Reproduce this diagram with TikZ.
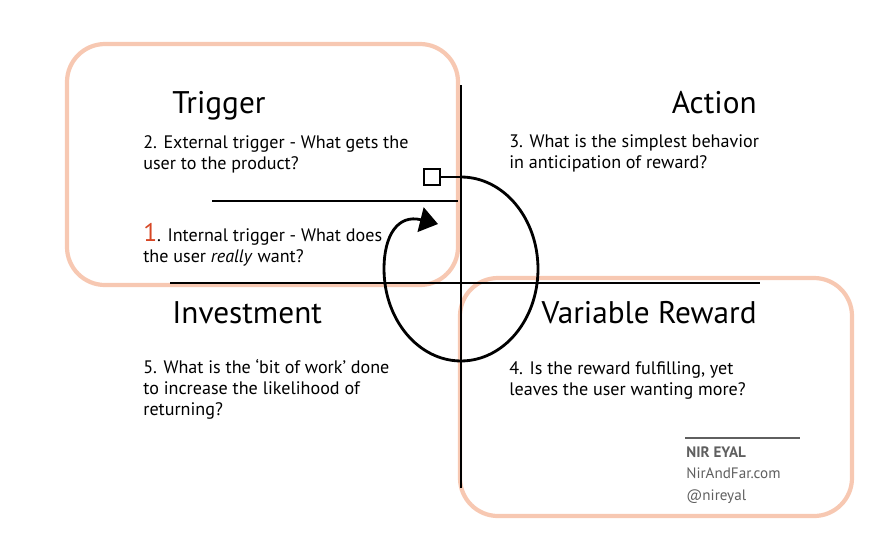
\documentclass[tikz,border=0pt]{standalone}
\usepackage{fontspec}
\setmainfont{PT Sans}
\usepackage{xcolor}
\usetikzlibrary{arrows.meta,positioning}

\definecolor{peach}{RGB}{247,200,178}
\definecolor{hookred}{RGB}{214,70,36}
\definecolor{creditgray}{RGB}{95,95,95}

\begin{document}
\begin{tikzpicture}[
    x=0.02cm, y=-0.02cm,
    zone/.style={draw=peach, line width=2.4pt, rounded corners=0.76cm},
    axis/.style={line width=1.6pt},
    heading/.style={inner sep=0, font=\fontsize{17.8}{20}\selectfont},
    question/.style={inner sep=0, align=left, font=\fontsize{10.3}{11.9}\selectfont},
    credit/.style={inner sep=0, text=creditgray, font=\fontsize{8.6}{10}\selectfont},
    loop/.style={line width=1.6pt, -{Triangle[length=0.36cm, width=0.5cm]}}
]
\useasboundingbox (0,0) rectangle (889,556);

% highlighted phases
\draw[zone] (67,44) rectangle (458,285);
\draw[zone] (460,278) rectangle (852,516);

% axes
\draw[axis] (461,85) -- (461,488);
\draw[axis] (170,283) -- (760,283);
\draw[axis] (212,201) -- (458,201);

% the hook cycle
\node[draw, line width=1.4pt, inner sep=0, minimum size=0.32cm] (cue) at (432,177) {};
\coordinate (hook) at (461,177);
\coordinate (tip) at (438,224);
\draw[line width=1.4pt] (cue.east) -- (hook);
\draw[loop] (hook) arc[start angle=90, end angle=-180, x radius=1.54cm, y radius=1.84cm]
    .. controls (384,235) and (398,214) .. (tip);

% phase titles
\node[heading, anchor=base west] (trigger) at (172,113) {Trigger};
\node[heading, anchor=base east] (action) at (757,113) {Action};
\node[heading, anchor=base west] (investment) at (172,323) {Investment};
\node[heading, anchor=base east] (reward) at (757,323) {Variable Reward};

% questions (anchored on their last line)
\node[question, anchor=base west] (external) at (143,169) {2. External trigger - What gets the\\user to the product?};
\node[question, anchor=base west] (internal) at (143,262) {{\color{hookred}\fontsize{14.5}{12}\selectfont 1}. Internal trigger - What does\\the user \textit{really} want?};
\node[question, anchor=base west] (behavior) at (509,168) {3. What is the simplest behavior\\in anticipation of reward?};
\node[question, anchor=base west] (work) at (143,415) {5. What is the ‘bit of work’ done\\to increase the likelihood of\\returning?};
\node[question, anchor=base west] (fulfil) at (509,395) {4. Is the reward fulfilling, yet\\leaves the user wanting more?};

% credits
\coordinate (rulestart) at (685,438);
\coordinate (ruleend) at (800,438);
\draw[creditgray, line width=1.2pt] (rulestart) -- (ruleend);
\node[credit, anchor=base west, font=\fontsize{8.6}{10}\selectfont\bfseries] (author) at (686,457) {NIR EYAL};
\node[credit, anchor=base west] (site) at (686,478) {NirAndFar.com};
\node[credit, anchor=base west] (handle) at (686,500) {@nireyal};
\end{tikzpicture}
\end{document}
